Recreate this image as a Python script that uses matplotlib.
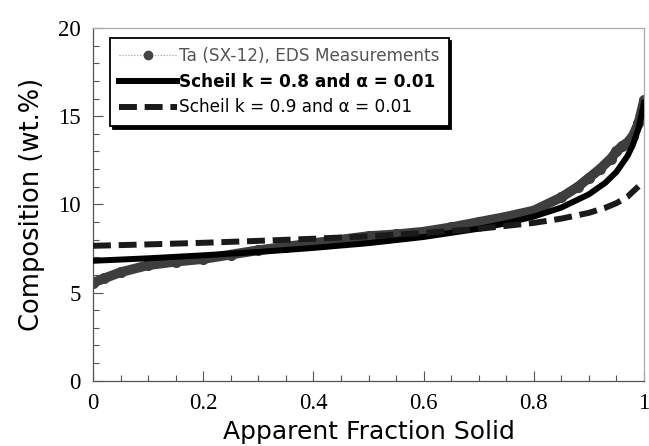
import matplotlib
matplotlib.use("Agg")
import matplotlib.pyplot as plt
from matplotlib.lines import Line2D
from matplotlib.ticker import MultipleLocator

# Measured Ta composition (EDS)
fs_meas = [0, 0.02, 0.05, 0.1, 0.15, 0.2, 0.25, 0.3, 0.35, 0.4, 0.45, 0.5, 0.55,
           0.6, 0.65, 0.7, 0.75, 0.8, 0.85, 0.88, 0.9, 0.92, 0.94, 0.95, 0.96,
           0.97, 0.98, 0.99, 1.0]
c_meas = [5.55, 5.8, 6.15, 6.55, 6.75, 6.9, 7.15, 7.4, 7.6, 7.8, 8.0, 8.2, 8.3,
          8.45, 8.7, 9.0, 9.3, 9.65, 10.4, 11.0, 11.5, 12.0, 12.6, 13.0, 13.3,
          13.5, 13.9, 14.6, 15.9]

# Scheil k = 0.8, alpha = 0.01
fs_k08 = [0, 0.1, 0.2, 0.3, 0.4, 0.5, 0.6, 0.7, 0.75, 0.8, 0.85, 0.9, 0.93,
          0.95, 0.97, 0.98, 0.99, 1.0]
c_k08 = [6.80, 6.94, 7.11, 7.30, 7.53, 7.80, 8.15, 8.62, 8.93, 9.31, 9.82,
         10.57, 11.23, 11.84, 12.74, 13.39, 14.30, 15.76]

# Scheil k = 0.9, alpha = 0.01
fs_k09 = [0, 0.1, 0.2, 0.3, 0.4, 0.5, 0.6, 0.7, 0.8, 0.85, 0.9, 0.93, 0.95,
          0.97, 0.99]
c_k09 = [7.65, 7.73, 7.82, 7.93, 8.05, 8.19, 8.38, 8.61, 8.95, 9.19, 9.52,
         9.81, 10.07, 10.43, 11.02]

labels = ["Ta (SX-12), EDS Measurements",
          "Scheil k = 0.8 and \u03b1 = 0.01",
          "Scheil k = 0.9 and \u03b1 = 0.01"]

xticks = [0, 0.2, 0.4, 0.6, 0.8, 1.0]
xticklabels = ["0", "0.2", "0.4", "0.6", "0.8", "1"]
yticks = [0, 5, 10, 15, 20]
yticklabels = ["0", "5", "10", "15", "20"]

plt.rcParams["font.family"] = ["Liberation Serif", "DejaVu Serif"]

fig = plt.figure(figsize=(6.49, 4.46), dpi=100)
ax = fig.add_axes([0.1433, 0.1464, 0.8490, 0.7908])

ax.plot(fs_meas, c_meas, color="#3e3e3e", lw=7, marker="o", ms=7,
        solid_capstyle="round", zorder=2)
ax.plot(fs_k08, c_k08, color="black", lw=4.3, zorder=3)
ax.plot(fs_k09, c_k09, color="#1a1a1a", lw=4.3, dashes=(3.0, 1.3), zorder=4)

ax.set_xlim(0, 1)
ax.set_ylim(0, 20)
ax.xaxis.set_minor_locator(MultipleLocator(0.05))
ax.yaxis.set_minor_locator(MultipleLocator(1))
ax.set_xticks(xticks)
ax.set_xticklabels(xticklabels, fontfamily="Liberation Serif", fontsize=16.5)
ax.set_yticks(yticks)
ax.set_yticklabels(yticklabels, fontfamily="Liberation Serif", fontsize=16.5)
ax.tick_params(which="both", direction="in", top=False, right=False,
               color="#555555", width=0.8)
ax.tick_params(which="major", length=7, pad=9)
ax.tick_params(which="minor", length=4)

for s in ["left", "bottom"]:
    ax.spines[s].set_color("#555555")
    ax.spines[s].set_linewidth(0.9)
for s in ["top", "right"]:
    ax.spines[s].set_color("#aaaaaa")
    ax.spines[s].set_linewidth(0.9)

ax.set_xlabel("Apparent Fraction Solid", fontsize=18, family="DejaVu Sans",
              labelpad=4)
ax.set_ylabel("Composition (wt.%)", fontsize=18.5, family="DejaVu Sans",
              labelpad=9)

handles = [
    Line2D([], [], color="#999999", lw=0.8, ls=":", marker="o", ms=6,
           markerfacecolor="#444444", markeredgecolor="#444444"),
    Line2D([], [], color="black", lw=4.3),
    Line2D([], [], color="#1a1a1a", lw=4.3, dashes=(3.0, 1.3)),
]
leg = ax.legend(handles, labels, loc="upper left",
                bbox_to_anchor=(0.031, 0.972), borderaxespad=0,
                prop={"family": "DejaVu Sans", "size": 12.2},
                handlelength=3.4, handletextpad=0.1, labelspacing=0.45,
                borderpad=0.55, fancybox=False, frameon=True,
                shadow={"color": "black", "alpha": 1.0})
leg.get_frame().set_edgecolor("black")
leg.get_frame().set_linewidth(1.3)
texts = leg.get_texts()
texts[0].set_color("#555555")
texts[1].set_fontweight("semibold")

fig.savefig("out.png", dpi=100)
